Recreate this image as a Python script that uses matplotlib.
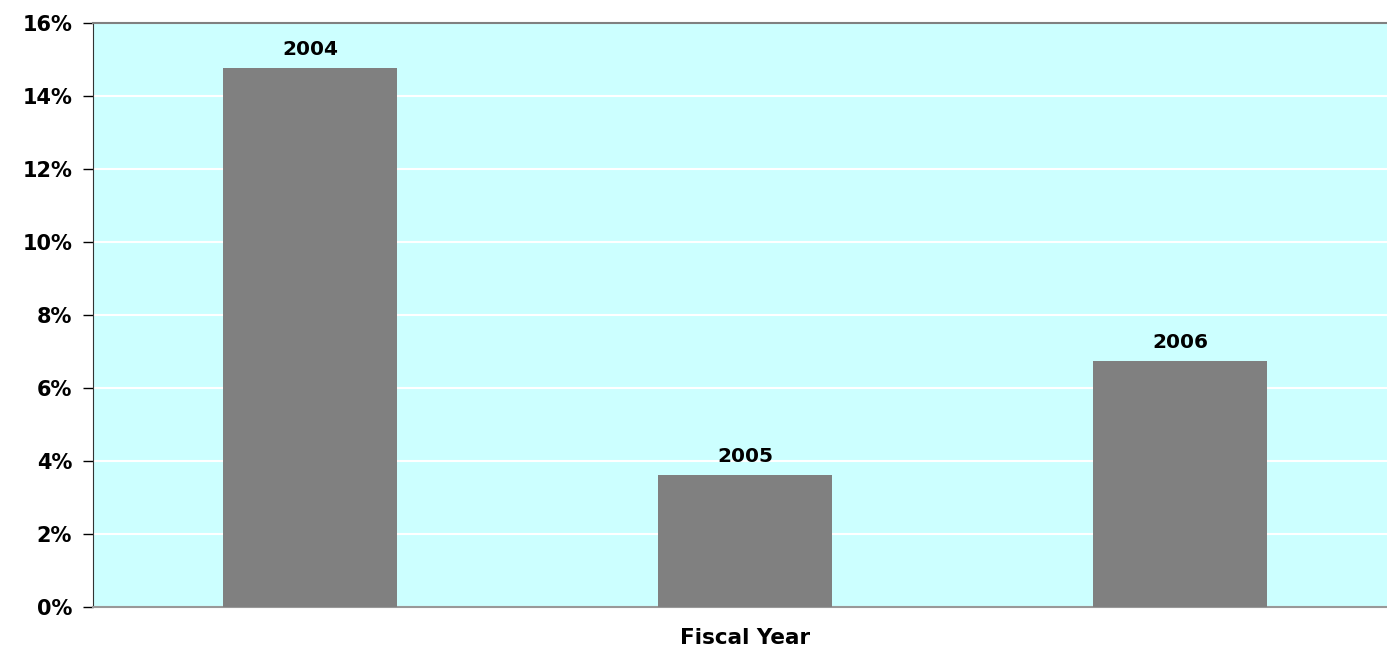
import numpy as np
import matplotlib.pyplot as plt
from matplotlib.ticker import FuncFormatter

years = ['2004', '2005', '2006']
growth = [14.77, 3.62, 6.74]   # percent

plt.rcParams['font.family'] = ['DejaVu Sans']
plt.rcParams['font.weight'] = 'bold'

fig = plt.figure(figsize=(13.87, 6.5), dpi=100)
# plot area runs a little past the right edge of the picture
ax = fig.add_axes([93 / 1387, 43 / 650, (1397.5 - 93) / 1387, 584 / 650])
ax.set_facecolor('#CCFFFF')

x = np.arange(len(years))
bars = ax.bar(x, growth, width=0.40, color='#808080', zorder=3)

ax.set_xlim(-0.5, len(years) - 0.5)
ax.set_ylim(0, 16)
ax.set_yticks(np.arange(0, 17, 2))
ax.yaxis.set_major_formatter(FuncFormatter(lambda v, p: '%d%%' % v))
ax.yaxis.grid(True, color='white', linewidth=1.5, zorder=1)
ax.set_axisbelow(True)

ax.set_xticks([])
ax.tick_params(axis='y', direction='out', length=7, width=1, labelsize=15, pad=8)
for lab in ax.get_yticklabels():
    lab.set_fontweight('bold')

ax.spines['left'].set_color('#333333')
ax.spines['top'].set_color('#808080')
ax.spines['top'].set_linewidth(1.5)
ax.spines['bottom'].set_color('#999999')
ax.spines['bottom'].set_linewidth(1.5)
ax.spines['right'].set_visible(False)

for b, lab in zip(bars, years):
    ax.annotate(lab, (b.get_x() + b.get_width() / 2, b.get_height()),
                xytext=(0, 9.5), textcoords='offset points', ha='center',
                va='baseline', fontsize=14.5, fontweight='bold', zorder=4)

fig.text(745 / 1387, 1.5 / 650, 'Fiscal Year', ha='center', va='bottom',
         fontsize=15.5, fontweight='bold')

fig.savefig('out.png', dpi=100)
